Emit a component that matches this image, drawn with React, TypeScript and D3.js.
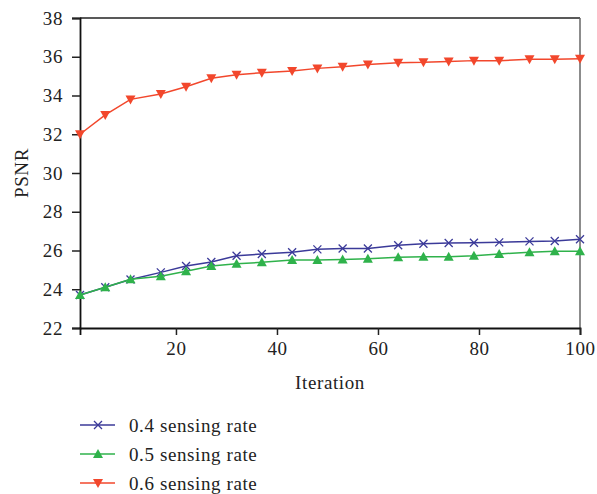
import React, { useEffect, useRef } from "react";
import * as d3 from "d3";

const iterations = [1, 6, 11, 17, 22, 27, 32, 37, 43, 48, 53, 58, 64, 69, 74, 79, 84, 90, 95, 100];
const rate04 = [23.7, 24.1, 24.5, 24.87, 25.2, 25.41, 25.73, 25.82, 25.91, 26.06, 26.1, 26.1, 26.27, 26.35, 26.39, 26.4, 26.42, 26.47, 26.49, 26.58];
const rate05 = [23.7, 24.1, 24.52, 24.67, 24.93, 25.2, 25.32, 25.39, 25.51, 25.51, 25.54, 25.58, 25.65, 25.68, 25.68, 25.73, 25.82, 25.91, 25.96, 25.96];
const rate06 = [32.0, 33.0, 33.8, 34.08, 34.45, 34.89, 35.07, 35.18, 35.26, 35.4, 35.49, 35.6, 35.69, 35.71, 35.76, 35.8, 35.8, 35.87, 35.87, 35.9];
const yTicks = [22, 24, 26, 28, 30, 32, 34, 36, 38];
const xTicks = [20, 40, 60, 80, 100];
const seriesNames = ["0.4 sensing rate", "0.5 sensing rate", "0.6 sensing rate"];

const App = () => {
  const ref = useRef<SVGSVGElement>(null);

  useEffect(() => {
    const width = 597;
    const height = 494;
    const margin = { top: 18, right: 17, bottom: 166, left: 80 };
    const font = "Liberation Serif, serif";
    const fs = "19px";
    const ls = "0.6px";

    const svg = d3.select(ref.current).attr("width", width).attr("height", height);
    svg.selectAll("*").remove();

    const x = d3.scaleLinear().domain([1, 100]).range([margin.left, width - margin.right]);
    const y = d3.scaleLinear().domain([22, 38]).range([height - margin.bottom, margin.top]);

    const series = [
      { name: seriesNames[0], values: rate04, color: "#3b3a99", marker: "x" },
      { name: seriesNames[1], values: rate05, color: "#2fb24b", marker: "up" },
      { name: seriesNames[2], values: rate06, color: "#f2472c", marker: "down" },
    ];

    // frame: top and right
    svg.append("line")
      .attr("x1", margin.left).attr("x2", width - margin.right)
      .attr("y1", margin.top).attr("y2", margin.top)
      .attr("stroke", "#222").attr("stroke-width", 1.5);
    svg.append("line")
      .attr("x1", width - margin.right).attr("x2", width - margin.right)
      .attr("y1", margin.top).attr("y2", height - margin.bottom)
      .attr("stroke", "#666").attr("stroke-width", 1.5);

    const yAxis = svg.append("g")
      .attr("transform", `translate(${margin.left},0)`)
      .call(d3.axisLeft(y).tickValues(yTicks).tickSize(8).tickPadding(9));
    const xAxis = svg.append("g")
      .attr("transform", `translate(0,${height - margin.bottom})`)
      .call(d3.axisBottom(x).tickValues(xTicks).tickSize(7).tickPadding(7));

    [yAxis, xAxis].forEach(g => {
      g.attr("font-family", null).attr("font-size", null);
      g.select(".domain").attr("stroke", "#111").attr("stroke-width", 1.8);
      g.selectAll(".tick line").attr("stroke", "#222").attr("stroke-width", 1.5);
      g.selectAll(".tick text")
        .style("font-family", font).style("font-size", fs).style("letter-spacing", ls).attr("fill", "#222");
    });

    svg.append("text")
      .attr("x", (margin.left + width - margin.right) / 2)
      .attr("y", 389)
      .attr("text-anchor", "middle")
      .style("font-family", font).style("font-size", fs).style("letter-spacing", ls).attr("fill", "#222")
      .text("Iteration");
    svg.append("text")
      .attr("transform", `translate(28,${(margin.top + height - margin.bottom) / 2}) rotate(-90)`)
      .attr("text-anchor", "middle")
      .style("font-family", font).style("font-size", fs).style("letter-spacing", ls).attr("fill", "#222")
      .text("PSNR");

    const line = d3.line<number>()
      .x((d, i) => x(iterations[i]))
      .y(d => y(d));

    const drawMarker = (g: any, kind: string, cx: number, cy: number, color: string) => {
      if (kind === "x") {
        const s = 4;
        g.append("path")
          .attr("d", `M${cx - s},${cy - s}L${cx + s},${cy + s}M${cx - s},${cy + s}L${cx + s},${cy - s}`)
          .attr("stroke", color).attr("stroke-width", 1.3).attr("fill", "none");
      } else {
        const s = 5;
        const d = kind === "up"
          ? `M${cx},${cy - s}L${cx + s},${cy + s * 0.8}L${cx - s},${cy + s * 0.8}Z`
          : `M${cx},${cy + s}L${cx + s},${cy - s * 0.8}L${cx - s},${cy - s * 0.8}Z`;
        g.append("path").attr("d", d).attr("fill", color);
      }
    };

    series.forEach(s => {
      const g = svg.append("g");
      g.append("path")
        .datum(s.values)
        .attr("fill", "none")
        .attr("stroke", s.color)
        .attr("stroke-width", 1.5)
        .attr("d", line);
      s.values.forEach((v, i) => drawMarker(g, s.marker, x(iterations[i]), y(v), s.color));
    });

    // legend
    const legendY = [425, 454, 483];
    series.forEach((s, i) => {
      const g = svg.append("g");
      g.append("line")
        .attr("x1", 80).attr("x2", 115)
        .attr("y1", legendY[i]).attr("y2", legendY[i])
        .attr("stroke", s.color).attr("stroke-width", 1.5);
      drawMarker(g, s.marker, 98, legendY[i], s.color);
      g.append("text")
        .attr("x", 129).attr("y", legendY[i])
        .attr("dy", "0.35em")
        .style("font-family", font).style("font-size", fs).style("letter-spacing", ls).attr("fill", "#222")
        .text(s.name);
    });
  }, []);

  return (
    <div style={{ position: "absolute", left: 0, top: 0 }}>
      <svg ref={ref} style={{ display: "block" }} />
    </div>
  );
};

export default App;
